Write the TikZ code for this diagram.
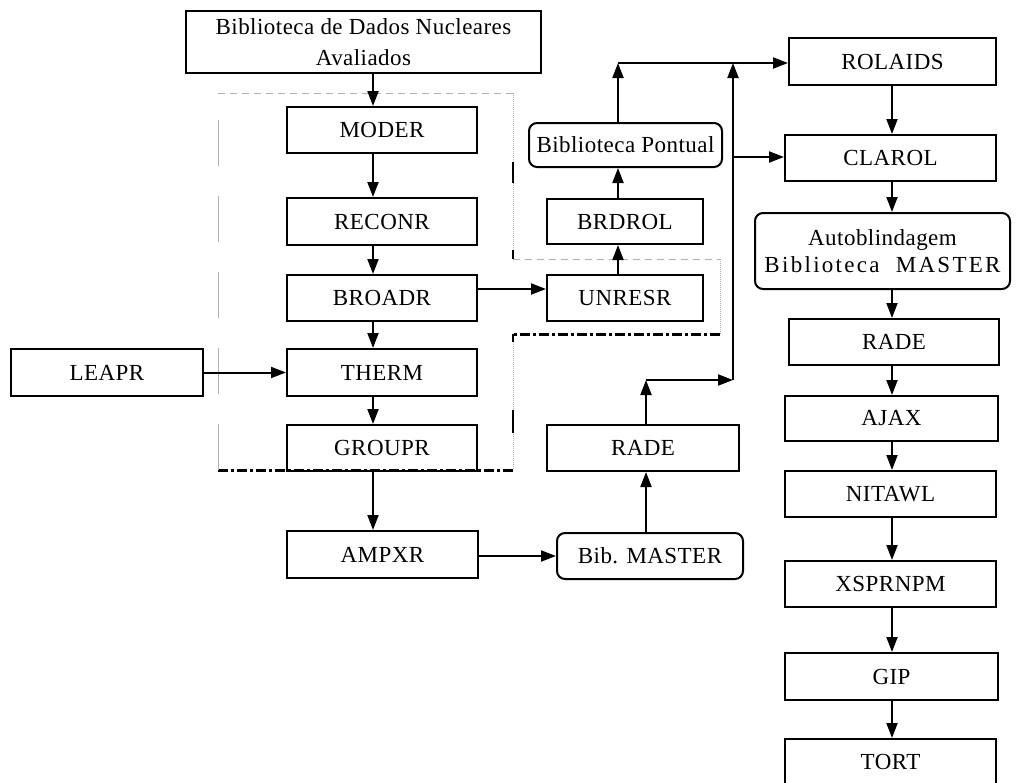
\documentclass[tikz,border=0pt]{standalone}
\usepackage{fontspec}
\setmainfont{Liberation Serif}[LetterSpace=2]
\usetikzlibrary{arrows.meta}
\begin{document}
\begin{tikzpicture}[x=1pt,y=-1pt,
 box/.style={draw, line width=2pt, inner sep=0pt, align=center, font=\fontsize{23}{31}\selectfont},
 rbox/.style={box, rounded corners=8pt},
 arr/.style={line width=2pt, -{Triangle[length=15pt,width=11pt]}},
 bnd/.style={gray!60, line width=0.9pt, dash pattern=on 7pt off 5pt},
 bndl/.style={gray!60, line width=0.9pt, dash pattern=on 46pt off 30pt},
 bndd/.style={gray!60, line width=1pt, densely dotted},
 bndk/.style={black, line width=3pt, dash pattern=on 10pt off 3pt on 3pt off 3pt}]
\useasboundingbox (0,0) rectangle (1023,782);

% boundary of the NJOY group
\draw[bnd] (218,93) -- (513,93);
\draw[bndd] (513,93) -- (513,259);
\draw[bnd] (513,259) -- (720,259);
\draw[bndd] (720,259) -- (720,334);
\draw[bndk] (720,334) -- (513,334);
\draw[bndd] (513,334) -- (513,470);
\draw[bndk] (513,470) -- (218,470);
\draw[bndl] (218,470) -- (218,93);
\draw[black, line width=2.5pt] (513,162) -- (513,183) (513,250) -- (513,259) (513,334) -- (513,342) (513,410) -- (513,433);

% nodes
\node[box, minimum width=355pt, minimum height=62pt] (top) at (363.5,42) {Biblioteca de Dados Nucleares\\Avaliados};
\node[box, minimum width=190pt, minimum height=46pt] (moder) at (382,130) {MODER};
\node[box, minimum width=190pt, minimum height=47pt] (reconr) at (382,221.5) {RECONR};
\node[box, minimum width=190pt, minimum height=46pt] (broadr) at (382,298) {BROADR};
\node[box, minimum width=190pt, minimum height=47pt] (therm) at (382,372.5) {THERM};
\node[box, minimum width=190pt, minimum height=46pt] (groupr) at (382,448) {GROUPR};
\node[box, minimum width=191pt, minimum height=47pt] (ampxr) at (382.5,554.5) {AMPXR};
\node[box, minimum width=192pt, minimum height=47pt] (leapr) at (107,372.5) {LEAPR};

\node[box, minimum width=156pt, minimum height=46pt] (unresr) at (625,298) {UNRESR};
\node[box, minimum width=156pt, minimum height=45pt] (brdrol) at (625,221.5) {BRDROL};
\node[rbox, minimum width=193pt, minimum height=44pt] (pontual) at (625.5,145) {Biblioteca Pontual};
\node[box, minimum width=192pt, minimum height=46pt] (radea) at (643,448) {RADE};
\node[rbox, minimum width=186pt, minimum height=46pt] (bibm) at (650,556) {Bib. MASTER};

\node[box, minimum width=207pt, minimum height=47pt] (rolaids) at (892.5,61.5) {ROLAIDS};
\node[box, minimum width=211pt, minimum height=46pt] (clarol) at (890.5,158) {CLAROL};
\node[rbox, minimum width=255pt, minimum height=76pt, font=\fontsize{23}{27}\selectfont] (auto) at (882.5,251) {Autoblindagem\\{\addfontfeature{LetterSpace=10}Biblioteca\ \ MASTER}};
\node[box, minimum width=210pt, minimum height=46pt] (radeb) at (894,342) {RADE};
\node[box, minimum width=213pt, minimum height=45pt] (ajax) at (891.5,418.5) {AJAX};
\node[box, minimum width=211pt, minimum height=46pt] (nitawl) at (890.5,494) {NITAWL};
\node[box, minimum width=211pt, minimum height=46pt] (xsprnpm) at (890.5,584) {XSPRNPM};
\node[box, minimum width=213pt, minimum height=47pt] (gip) at (891.5,676.5) {GIP};
\node[box, minimum width=211pt, minimum height=46pt] (tort) at (890.5,762) {TORT};

% helper coordinates
\coordinate (cx) at (373,0);
\coordinate (rx) at (892,0);
\coordinate (ux) at (618,0);
\coordinate (mx) at (646,0);
\coordinate (vx) at (733,0);
\coordinate (ay) at (0,289);
\coordinate (ty) at (0,63);
\coordinate (cy) at (0,157);
\coordinate (by) at (0,556);
\coordinate (topj) at (618,63);
\coordinate (vtop) at (733,63);
\coordinate (vbot) at (733,380);
\coordinate (rj) at (646,380);

% left column
\draw[arr] (top.south -| cx) -- (moder.north -| cx);
\draw[arr] (moder.south -| cx) -- (reconr.north -| cx);
\draw[arr] (reconr.south -| cx) -- (broadr.north -| cx);
\draw[arr] (broadr.south -| cx) -- (therm.north -| cx);
\draw[arr] (therm.south -| cx) -- (groupr.north -| cx);
\draw[arr] (groupr.south -| cx) -- (ampxr.north -| cx);
\draw[arr] (leapr.east) -- (therm.west |- leapr.east);

% middle column
\draw[arr] (broadr.east |- ay) -- (unresr.west |- ay);
\draw[arr] (unresr.north -| ux) -- (brdrol.south -| ux);
\draw[arr] (brdrol.north -| ux) -- (pontual.south -| ux);
\draw[arr] (pontual.north -| ux) -- (topj);
\draw[arr] (topj) -- (rolaids.west |- ty);
\draw[arr] (ampxr.east |- by) -- (bibm.west |- by);
\draw[arr] (bibm.north -| mx) -- (radea.south -| mx);
\draw[arr] (radea.north -| mx) -- (rj);
\draw[arr] (rj) -- (vbot);
\draw[arr] (vbot) -- (vtop);
\draw[arr] (vx |- cy) -- (clarol.west |- cy);

% right column
\draw[arr] (rolaids.south -| rx) -- (clarol.north -| rx);
\draw[arr] (clarol.south -| rx) -- (auto.north -| rx);
\draw[arr] (auto.south -| rx) -- (radeb.north -| rx);
\draw[arr] (radeb.south -| rx) -- (ajax.north -| rx);
\draw[arr] (ajax.south -| rx) -- (nitawl.north -| rx);
\draw[arr] (nitawl.south -| rx) -- (xsprnpm.north -| rx);
\draw[arr] (xsprnpm.south -| rx) -- (gip.north -| rx);
\draw[arr] (gip.south -| rx) -- (tort.north -| rx);
\end{tikzpicture}
\end{document}
